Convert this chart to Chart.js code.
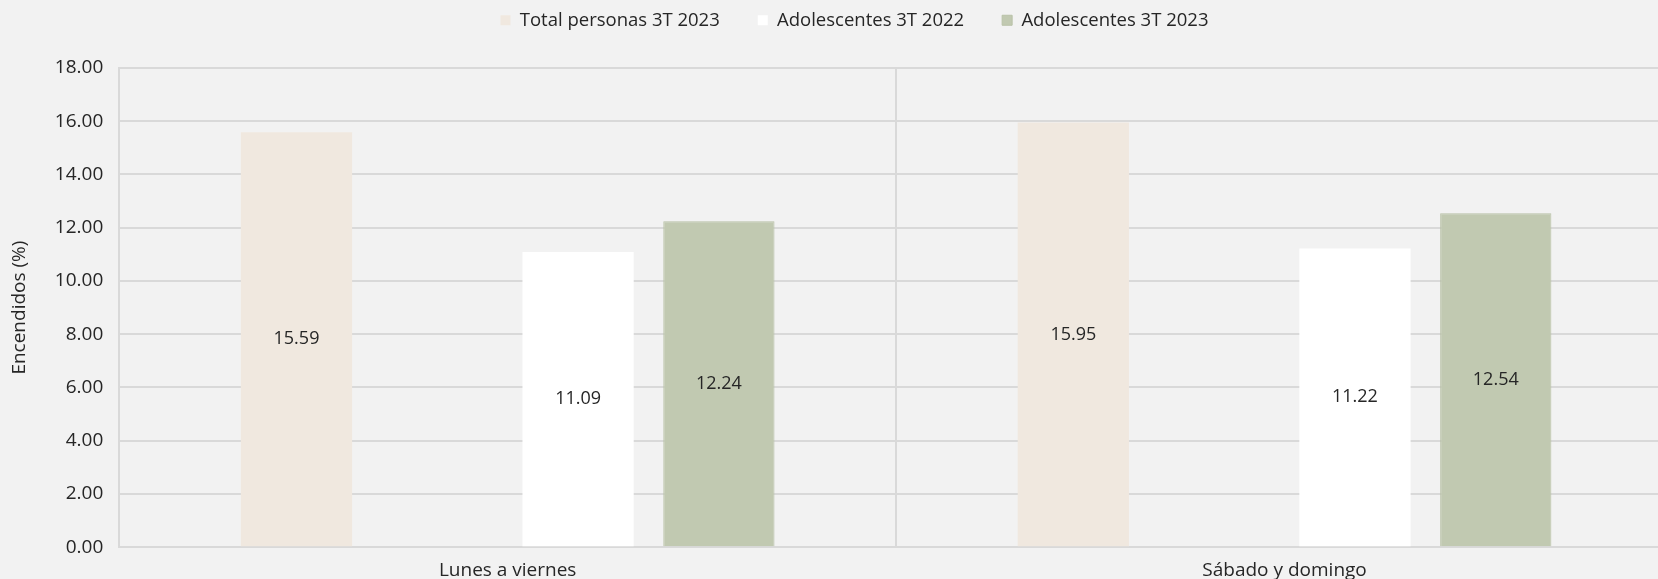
<!DOCTYPE html>
<html>
<head>
<meta charset="utf-8">
<script src="https://cdn.jsdelivr.net/npm/chart.js@4/dist/chart.umd.min.js"></script>
<style>
  html, body { margin: 0; padding: 0; background: #f2f2f2; overflow: hidden; }
  /* plot area runs a little past the right and bottom edges, as in the original */
  #wrap { width: 1673px; height: 594px; }
</style>
</head>
<body>
<div id="wrap"><canvas id="chart"></canvas></div>
<script>
// Data
const categories = ['Lunes a viernes', 'Sábado y domingo'];
const totalPersonas2023 = [15.59, 15.95];
const emptySlot = [null, null];
const adolescentes2022 = [11.09, 11.22];
const adolescentes2023 = [12.24, 12.54];
const yTicks = [0, 2, 4, 6, 8, 10, 12, 14, 16, 18];

const FONT = '"Open Sans", Lato, sans-serif';
const LEGEND_PAD = 38;

// Value labels in the middle of each bar
const barLabels = {
    id: 'barLabels',
    afterDatasetsDraw(chart) {
        const ctx = chart.ctx;
        ctx.save();
        ctx.font = '18px ' + FONT;
        ctx.fillStyle = '#262626';
        ctx.textAlign = 'center';
        ctx.textBaseline = 'middle';
        chart.data.datasets.forEach((ds, i) => {
            if (ds.hideLabels) return;
            chart.getDatasetMeta(i).data.forEach((bar, j) => {
                const v = ds.data[j];
                if (v == null) return;
                ctx.fillText(v.toFixed(2), bar.x, (bar.y + bar.base) / 2);
            });
        });
        ctx.restore();
    }
};

// wide gaps between legend items but legend kept close to the top
const legendTweak = {
    id: 'legendTweak',
    beforeInit(chart) {
        const fit = chart.legend.fit;
        chart.legend.fit = function () {
            fit.bind(chart.legend)();
            this.height = 68;
        };
    },
    afterLayout(chart) {
        chart.legend.top = 11 - LEGEND_PAD;
        chart.legend.left += 16;
        chart.legend.right += 16;
    }
};

const ctx = document.getElementById('chart').getContext('2d');
new Chart(ctx, {
    type: 'bar',
    data: {
        labels: categories,
        datasets: [{
            label: 'Total personas 3T 2023',
            data: totalPersonas2023,
            backgroundColor: '#f0e8df'
        }, {
            label: '',
            data: emptySlot,
            backgroundColor: 'rgba(0,0,0,0)',
            hideLabels: true
        }, {
            label: 'Adolescentes 3T 2022',
            data: adolescentes2022,
            backgroundColor: '#ffffff'
        }, {
            label: 'Adolescentes 3T 2023',
            data: adolescentes2023,
            backgroundColor: '#c1c9b1',
            borderColor: '#b8c1a6',
            borderWidth: 1
        }]
    },
    options: {
        responsive: true,
        maintainAspectRatio: false,
        animation: false,
        categoryPercentage: 0.725,
        barPercentage: 0.79,
        layout: { padding: { top: 0, right: 0, bottom: 0, left: 4 } },
        plugins: {
            legend: {
                position: 'top',
                labels: {
                    font: { family: FONT, size: 18.5 },
                    color: '#262626',
                    boxWidth: 10,
                    boxHeight: 10,
                    padding: LEGEND_PAD,
                    filter: item => item.text !== ''
                }
            },
            tooltip: { enabled: false }
        },
        scales: {
            x: {
                grid: { color: '#d9d9d9', lineWidth: 2, offset: true, drawTicks: false },
                border: { color: '#d9d9d9', width: 2 },
                ticks: { font: { family: FONT, size: 19 }, color: '#262626', padding: 12 }
            },
            y: {
                min: 0,
                max: 18,
                afterBuildTicks: axis => { axis.ticks = yTicks.map(v => ({ value: v })); },
                grid: { color: '#d9d9d9', lineWidth: 2, drawTicks: false },
                border: { color: '#d9d9d9', width: 2 },
                ticks: {
                    font: { family: FONT, size: 19 },
                    color: '#262626',
                    padding: 16,
                    callback: v => Number(v).toFixed(2)
                },
                title: {
                    display: true,
                    text: 'Encendidos (%)',
                    font: { family: FONT, size: 19 },
                    color: '#262626',
                    padding: { bottom: 8 }
                }
            }
        }
    },
    plugins: [barLabels, legendTweak]
});
</script>
</body>
</html>
